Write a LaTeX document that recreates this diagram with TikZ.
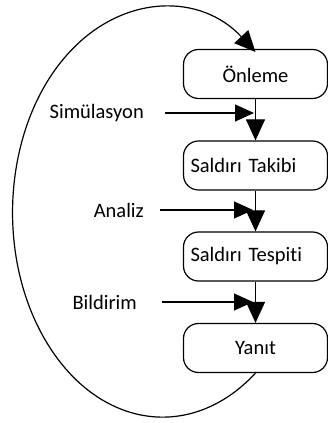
\documentclass[tikz,border=0pt]{standalone}
\usepackage{fontspec}
\setmainfont{Carlito}[Ligatures={NoCommon}]
\usetikzlibrary{arrows.meta}
\begin{document}
\begin{tikzpicture}[x=1pt,y=1pt,
  stage/.style={draw,line width=1.2pt,rounded corners=15pt,minimum width=144pt,minimum height=49pt,inner sep=0pt,font=\fontsize{20.5}{24}\selectfont},
  leftstage/.style={stage,text width=130pt,align=left},
  lbl/.style={inner sep=0pt,font=\fontsize{20.5}{24}\selectfont},
  flow/.style={line width=1.2pt,-{Triangle[length=21pt,width=19pt]}},
  feed/.style={line width=1.2pt,-{Triangle[length=19pt,width=17pt]}}]
\useasboundingbox (0,0) rectangle (328,423);
\node[stage] (onleme) at (255.5,349) {Önleme};
\node[leftstage] (takibi) at (255.5,257.5) {Saldırı Takibi};
\node[leftstage] (tespiti) at (255.5,166.5) {Saldırı Tespiti};
\node[stage] (yanit) at (255.5,75) {Yanıt};
\draw[flow] (onleme.south) -- (takibi.north);
\draw[flow] (takibi.south) -- (tespiti.north);
\draw[flow] (tespiti.south) -- (yanit.north);
\node[lbl,anchor=east] (sim) at (144,310) {Simülasyon};
\node[lbl,anchor=east] (ana) at (144,213) {Analiz};
\node[lbl,anchor=east] (bil) at (137,121) {Bildirim};
\coordinate (s1) at (165,310); \coordinate (e1) at (254,310);
\coordinate (s2) at (160,213); \coordinate (e2) at (253,213);
\coordinate (s3) at (162,121); \coordinate (e3) at (253,121);
\draw[feed] (s1) -- (e1);
\draw[feed] (s2) -- (e2);
\draw[feed] (s3) -- (e3);
\draw[line width=1.2pt,-{Triangle[length=21pt,width=19pt]}] (yanit.south) arc[start angle=-51.7, end angle=-308.3, x radius=150, y radius=204.6];
\end{tikzpicture}
\end{document}
